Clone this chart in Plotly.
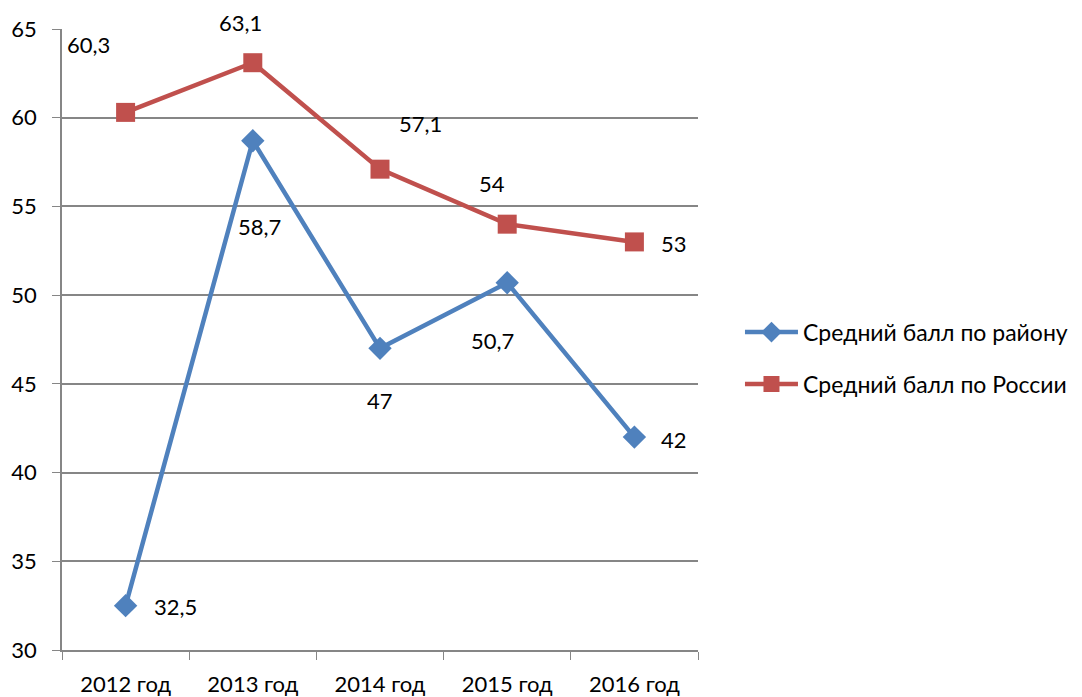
import plotly.graph_objects as go

categories = ["2012 год", "2013 год", "2014 год", "2015 год", "2016 год"]
district = [32.5, 58.7, 47, 50.7, 42]
russia = [60.3, 63.1, 57.1, 54, 53]
district_name = "Средний балл по району"
russia_name = "Средний балл по России"

BLUE = "#4F81BD"
RED = "#C0504D"
FONT = "Lato"

def fmt(v):
    return ("%g" % v).replace(".", ",")

fig = go.Figure()
fig.add_trace(go.Scatter(x=categories, y=district, name=district_name, mode="lines+markers",
                         legendgroup="d",
                         line=dict(color=BLUE, width=4.5),
                         marker=dict(symbol="diamond", size=18, color=BLUE)))
fig.add_trace(go.Scatter(x=categories, y=russia, name=russia_name, mode="lines+markers",
                         legendgroup="r",
                         line=dict(color=RED, width=4.5),
                         marker=dict(symbol="square", size=19, color=RED)))

# label offsets in pixels (dx, dy) relative to points
russia_off = [(-37, 68), (-12, 40), (40, 46), (-15, 41), (40, -2)]
district_off = [(50, -1), (7, -86), (0, -52), (-15, -58), (40, -2)]
for c, v, (dx, dy) in zip(categories, russia, russia_off):
    fig.add_annotation(x=c, y=v, text=fmt(v), showarrow=False, xshift=dx, yshift=dy,
                       font=dict(family=FONT, size=22, color="#000000"))
for c, v, (dx, dy) in zip(categories, district, district_off):
    fig.add_annotation(x=c, y=v, text=fmt(v), showarrow=False, xshift=dx, yshift=dy,
                       font=dict(family=FONT, size=22, color="#000000"))

fig.update_layout(
    width=1074, height=689,
    margin=dict(l=54, r=384, t=21, b=47, autoexpand=False),
    paper_bgcolor="white", plot_bgcolor="white",
    font=dict(family=FONT, size=22, color="#000000"),
    showlegend=True,
    legend=dict(x=1.066, y=0.47, xanchor="left", yanchor="middle",
                font=dict(family=FONT, size=23, color="#000000"),
                traceorder="grouped",
                itemwidth=53, tracegroupgap=19, bgcolor="rgba(0,0,0,0)"),
)
fig.update_xaxes(type="category", tickson="boundaries", ticks="outside", ticklen=8,
                 tickcolor="#868686", showline=True, linecolor="#868686", linewidth=1.5,
                 showgrid=False, zeroline=False, range=[-0.5, 4.5], fixedrange=True,
                 automargin=False, ticklabelstandoff=14,
                 tickfont=dict(family=FONT, size=22, color="#000000"))
fig.update_yaxes(range=[30, 65], dtick=5, ticks="outside", ticklen=8, tickcolor="#868686",
                 showline=True, linecolor="#868686", linewidth=1.5,
                 showgrid=True, gridcolor="#868686", gridwidth=1.5, zeroline=False,
                 automargin=False, ticklabelstandoff=11,
                 tickfont=dict(family=FONT, size=22, color="#000000"))

fig.write_html("out.html")
